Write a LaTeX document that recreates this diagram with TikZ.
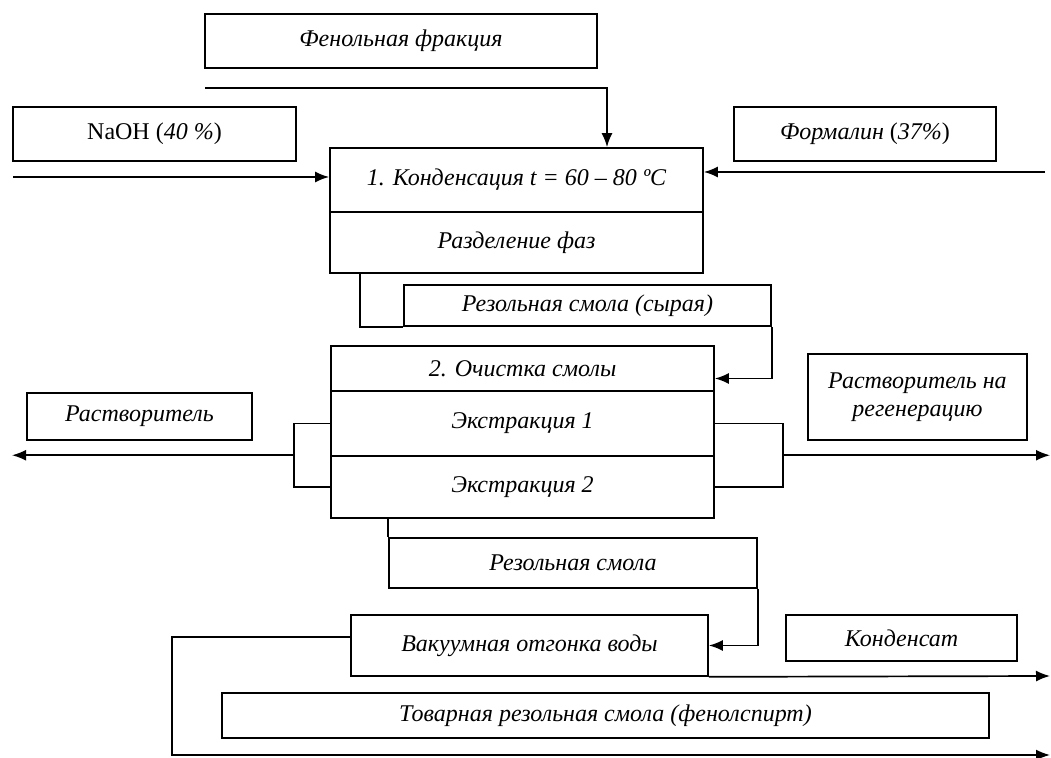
\documentclass[tikz,border=0pt]{standalone}
\usepackage{fontspec}
\setmainfont{Liberation Serif}
\usetikzlibrary{calc,arrows.meta}

\tikzset{
  >={Latex[length=7pt,width=5.5pt]},
  box/.style={draw, rectangle, inner sep=0pt, font=\fontsize{12}{14}\selectfont\itshape},
  boxsize/.style 2 args={minimum width=#1*0.5pt, minimum height=#2*0.5pt},
}

\begin{document}
\begin{tikzpicture}[x=0.5pt, y=-0.5pt, line width=0.85pt]
  \useasboundingbox (0,0) rectangle (1051,758);
  % stage 1
  \node[box, boxsize={392}{54}] (fen) at (401,41) {Фенольная фракция};
  \node[box, boxsize={283}{54}] (naoh) at (154.5,134) {\upshape NaOH (\textit{40 \%})};
  \node[box, boxsize={262}{54}] (form) at (865,134) {Формалин {\upshape(}37\%{\upshape)}};
  \node[box, boxsize={373}{64}] (cond1) at (516.5,180) {1. Конденсация t = 60 – 80 ºC};
  \node[box, boxsize={373}{61}] (cond2) at (516.5,242.5) {Разделение фаз};
  \node[box, boxsize={367}{41}] (rawres) at (587.5,305.5) {Резольная смола (сырая)};
  % stage 2
  \node[box, boxsize={383}{45}] (clean) at (522.5,368.5) {2. Очистка смолы};
  \node[box, boxsize={383}{65}] (ext1) at (522.5,423.5) {Экстракция 1};
  \node[box, boxsize={383}{62}] (ext2) at (522.5,487) {Экстракция 2};
  \node[box, boxsize={225}{47}] (solv) at (139.5,416.5) {Растворитель};
  \node[box, boxsize={219}{86}, align=center] (regen) at (917.5,397) {Растворитель на\\регенерацию};
  \node[box, boxsize={368}{50}] (res) at (573,563) {Резольная смола};
  % stage 3
  \node[box, boxsize={357}{61}] (vac) at (529.5,645.5) {Вакуумная отгонка воды};
  \node[box, boxsize={231}{46}] (cnd) at (901.5,638) {Конденсат};
  \node[box, boxsize={767}{45}] (prod) at (605.5,715.5) {Товарная резольная смола (фенолспирт)};

  \coordinate (fenin) at (205,88);
  \coordinate (naohin) at (13,177);
  \coordinate (formin) at (1045,172);
  \coordinate (solvout) at (12,456);
  \coordinate (regenout) at (1050,456);
  \coordinate (cndout) at (1050,676);
  \coordinate (prodout) at (1050,755);

  \draw[->] (fenin) -| ($(cond1.north)+(90.5,0)$);
  \draw[->] (naohin) -- (naohin -| cond1.west);
  \draw[->] (formin) -- (formin -| cond1.east);
  \draw ($(cond2.south)+(-156.5,0)$) |- (rawres.south west);
  \draw[->] (rawres.south east) |- ($(clean.east)+(0,10)$);

  \coordinate (lmid) at ($(ext1.west)!0.5!(ext2.west)+(-36,0)$);
  \coordinate (rmid) at ($(ext1.east)!0.5!(ext2.east)+(68,0)$);
  \draw (ext1.west) -- ++(-36,0) |- (ext2.west);
  \draw[->] (lmid) -- (lmid -| solvout);
  \draw (ext1.east) -- ++(68,0) |- (ext2.east);
  \draw[->] (rmid) -- (rmid -| regenout);

  \draw (ext2.south -| res.west) -- (res.north west);
  \draw[->] (res.south east) |- (vac.east);
  \draw[->] (vac.south east) -- (cndout);
  \draw[->] ($(vac.west)+(0,-8.5)$) -- ++(-178,0) |- (prodout);
\end{tikzpicture}
\end{document}
